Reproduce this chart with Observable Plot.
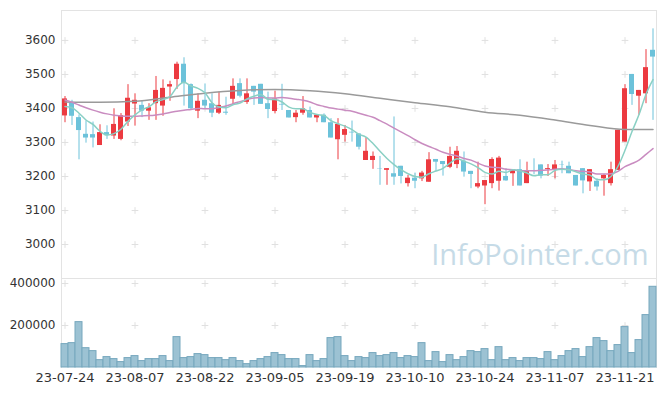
<!DOCTYPE html>
<html><head><meta charset="utf-8">
<script src="https://cdn.jsdelivr.net/npm/d3@7"></script>
<script src="https://cdn.jsdelivr.net/npm/@observablehq/plot@0.6"></script>
<style>
html,body{margin:0;padding:0;background:#fff;}
#chart svg{display:block;}
</style></head><body><div id="chart"></div>
<script>
const dates = ["23-07-24","23-07-25","23-07-26","23-07-27","23-07-28","23-07-31","23-08-01","23-08-02","23-08-03","23-08-04",
"23-08-07","23-08-08","23-08-09","23-08-10","23-08-11","23-08-14","23-08-16","23-08-17","23-08-18","23-08-21",
"23-08-22","23-08-23","23-08-24","23-08-25","23-08-28","23-08-29","23-08-30","23-08-31","23-09-01","23-09-04",
"23-09-05","23-09-06","23-09-07","23-09-08","23-09-11","23-09-12","23-09-13","23-09-14","23-09-15","23-09-18",
"23-09-19","23-09-20","23-09-21","23-09-22","23-09-25","23-09-26","23-09-27","23-10-04","23-10-05","23-10-06",
"23-10-10","23-10-11","23-10-12","23-10-13","23-10-16","23-10-17","23-10-18","23-10-19","23-10-20","23-10-23",
"23-10-24","23-10-25","23-10-26","23-10-27","23-10-30","23-10-31","23-11-01","23-11-02","23-11-03","23-11-06",
"23-11-07","23-11-08","23-11-09","23-11-10","23-11-13","23-11-14","23-11-15","23-11-16","23-11-17","23-11-20",
"23-11-21","23-11-22","23-11-23","23-11-24","23-11-27"];

const open = [3378,3417,3373,3324,3323,3291,3329,3319,3309,3360,
3413,3409,3392,3414,3407,3463,3485,3530,3470,3392,
3424,3414,3386,3389,3427,3473,3418,3465,3471,3414,
3391,3412,3394,3373,3386,3394,3372,3380,3358,3308,
3321,3330,3325,3247,3247,3223,3218,3208,3230,3179,
3195,3193,3183,3250,3244,3227,3235,3245,3215,3169,
3172,3179,3186,3200,3208,3220,3179,3216,3234,3220,
3220,3235,3230,3203,3223,3184,3186,3193,3179,3218,
3301,3500,3436,3443,3571];
const high = [3435,3424,3381,3363,3360,3352,3349,3399,3385,3470,
3443,3422,3414,3494,3484,3480,3536,3549,3472,3443,
3472,3443,3448,3433,3487,3487,3487,3465,3471,3448,
3451,3471,3394,3394,3435,3404,3380,3384,3370,3370,
3350,3363,3325,3314,3272,3259,3223,3375,3230,3203,
3210,3215,3270,3250,3244,3286,3288,3272,3215,3242,
3188,3255,3259,3223,3220,3249,3242,3252,3234,3235,
3247,3245,3242,3203,3223,3220,3193,3206,3242,3336,
3470,3500,3453,3573,3634];
const low = [3358,3350,3249,3298,3284,3291,3309,3309,3305,3347,
3348,3373,3365,3365,3377,3421,3456,3407,3397,3370,
3399,3373,3382,3380,3409,3431,3412,3409,3412,3370,
3384,3394,3372,3358,3380,3372,3358,3358,3313,3249,
3301,3301,3278,3247,3221,3174,3174,3174,3178,3169,
3164,3185,3183,3215,3201,3223,3223,3198,3164,3164,
3117,3164,3157,3186,3171,3172,3179,3205,3193,3200,
3193,3208,3208,3172,3149,3156,3157,3142,3172,3218,
3301,3409,3380,3414,3365];
const close = [3428,3377,3335,3313,3313,3329,3320,3353,3379,3430,
3424,3392,3402,3453,3459,3470,3530,3473,3399,3421,
3407,3386,3409,3386,3465,3436,3443,3448,3412,3397,
3428,3410,3372,3386,3399,3372,3380,3358,3313,3353,
3338,3328,3286,3274,3259,3222,3223,3198,3200,3195,
3186,3210,3249,3242,3235,3259,3274,3213,3206,3179,
3188,3250,3254,3187,3220,3172,3215,3215,3201,3223,
3234,3234,3208,3172,3187,3220,3169,3203,3220,3336,
3458,3441,3453,3520,3551];
const volume = [111400,116000,216000,92000,78000,35000,49500,40000,25700,44800,
54300,30500,40000,40000,54300,30500,144700,44800,49500,63800,
59000,44800,44800,35000,44800,30500,16000,30500,40000,49500,
68600,59000,40000,40000,6700,59000,30500,40000,140000,144700,
54300,30500,49500,44800,68600,54300,59000,68600,44800,54300,
49500,116000,30500,73300,25700,59000,35000,49500,78000,73300,
87600,35000,97000,35000,44800,30500,44800,44800,40000,73300,
35000,54300,78000,87600,49500,97000,140000,125700,78000,106700,
192400,68600,130500,249500,384300];
// moving averages
const ma5 = [3406,3402,3386,3366,3353,3333,3322,3326,3339,3362,
3381,3396,3405,3420,3426,3435,3463,3477,3466,3459,
3446,3417,3404,3402,3411,3416,3428,3436,3441,3427,
3426,3419,3404,3399,3399,3388,3382,3379,3364,3355,
3348,3338,3324,3316,3297,3274,3253,3235,3220,3208,
3200,3198,3208,3216,3224,3239,3252,3245,3237,3226,
3212,3207,3215,3212,3220,3217,3210,3202,3205,3205,
3218,3221,3220,3214,3207,3204,3191,3190,3200,3230,
3277,3332,3382,3442,3485];
const ma20 = [3425,3418,3410,3402,3395,3389,3384,3380,3378,3377,
3377,3378,3379,3381,3384,3388,3392,3395,3397,3400,
3399,3399,3403,3407,3414,3420,3426,3431,3432,3431,
3431,3432,3430,3427,3424,3419,3411,3406,3401,3398,
3395,3392,3386,3380,3374,3364,3354,3342,3331,3320,
3308,3297,3288,3280,3271,3265,3260,3253,3248,3239,
3231,3227,3226,3221,3220,3217,3217,3217,3218,3219,
3221,3223,3220,3217,3215,3213,3207,3207,3208,3215,
3229,3238,3248,3265,3282];
const maLongIdx = [0,5,10,15,20,25,30,35,40,45,50,55,60,65,70,75,80,84];
const maLong = [3419,3418,3421,3433,3445,3453,3456,3452,3443,3430,3417,3405,3389,3380,3366,3350,3338,3338];

const priceTicks = [3000,3100,3200,3300,3400,3500,3600];
const volTicks = [200000,400000];

const rows = dates.map((d,i)=>({date:d, open:open[i], high:high[i], low:low[i], close:close[i], volume:volume[i], ma5:ma5[i], ma20:ma20[i]}));
const longRows = maLongIdx.map((k,j)=>({date:dates[k], v:maLong[j]}));
const xTicks = dates.filter((d,i)=>i%10===0);
const priceCross = xTicks.flatMap(x=>priceTicks.map(y=>({x,y})));
const volCross = xTicks.flatMap(x=>volTicks.map(y=>({x,y})));

const RED="#ec3a40", BLUE="#6cc2da", FRAME="#e3e3e3", CROSS="#e0e0e0";
const col = d => d.close >= d.open ? RED : BLUE;
const W=665, ML=61, MR=9;
const font = {fontFamily:"'DejaVu Sans', sans-serif", fontSize:"12px", color:"#333", background:"#fff", overflow:"visible"};

const price = Plot.plot({
  width:W, height:278, marginTop:10, marginBottom:0, marginLeft:ML, marginRight:MR,
  style:font,
  x:{type:"band", domain:dates, padding:0, axis:null},
  y:{domain:[2900,3688]},
  marks:[
    Plot.frame({anchor:"left", stroke:FRAME}),
    Plot.frame({anchor:"top", stroke:FRAME}),
    Plot.frame({anchor:"right", stroke:FRAME}),
    Plot.dot(priceCross,{x:"x", y:"y", symbol:"plus", r:2.3, stroke:CROSS, strokeWidth:1}),
    Plot.text(["InfoPointer.com"],{frameAnchor:"bottom-right", text:d=>d, dx:-8, dy:-23, textAnchor:"end", lineAnchor:"middle",
      fontFamily:"'Open Sans', sans-serif", fontSize:29, fill:"#c6dbe7"}),
    Plot.ruleX(rows,{x:"date", y1:"low", y2:"high", stroke:col, strokeWidth:1}),
    Plot.barY(rows,{x:"date", y1:"open", y2:"close", fill:col, insetLeft:1, insetRight:1}),
    Plot.line(longRows,{x:"date", y:"v", stroke:"#9a9a9a", strokeWidth:1.5, curve:"monotone-x"}),
    Plot.line(rows,{x:"date", y:"ma20", stroke:"#c98cc0", strokeWidth:1.5, curve:"monotone-x"}),
    Plot.line(rows,{x:"date", y:"ma5", stroke:"#8ad0c4", strokeWidth:1.5, curve:"monotone-x"}),
    Plot.axisY({ticks:priceTicks, tickSize:0, tickPadding:6, tickFormat:d3.format("d"), label:null, fontSize:12, fill:"#333"})
  ]
});

const vol = Plot.plot({
  width:W, height:118, marginTop:0, marginBottom:29, marginLeft:ML, marginRight:MR,
  style:font,
  x:{type:"band", domain:dates, padding:0},
  y:{domain:[0,423800]},
  marks:[
    Plot.frame({anchor:"left", stroke:FRAME}),
    Plot.frame({anchor:"top", stroke:FRAME}),
    Plot.frame({anchor:"right", stroke:FRAME}),
    Plot.dot(volCross,{x:"x", y:"y", symbol:"plus", r:2.3, stroke:CROSS, strokeWidth:1}),
    Plot.barY(rows,{x:"date", y:"volume", fill:"#9cc2d3", stroke:"#76a7bd", strokeWidth:1}),
    Plot.axisY({ticks:volTicks, tickSize:0, tickPadding:6, tickFormat:d3.format("d"), label:null, fontSize:12, fill:"#333"}),
    Plot.axisX({ticks:xTicks, tickSize:0, tickPadding:5, label:null, fontSize:13, fill:"#333"})
  ]
});

document.getElementById("chart").append(price, vol);
</script>
</body></html>
